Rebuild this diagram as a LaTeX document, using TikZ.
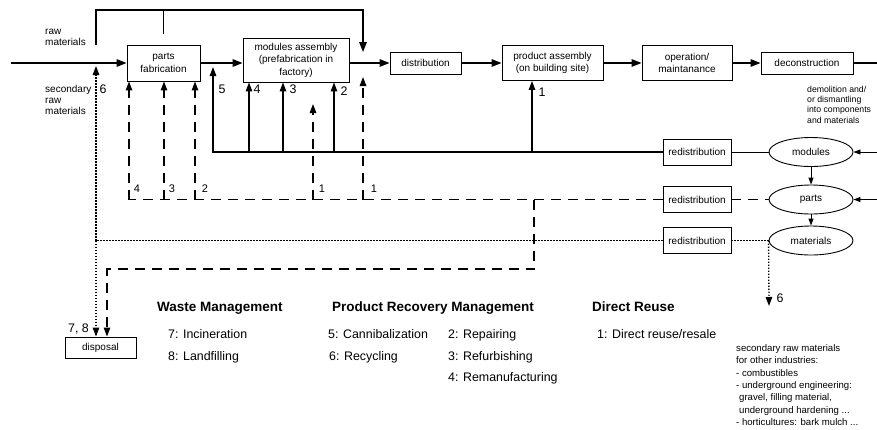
\documentclass[tikz,border=0pt]{standalone}
\usepackage{fontspec}
\setmainfont{Liberation Sans}
\usetikzlibrary{arrows.meta,positioning,calc,shapes.geometric}
\tikzset{
  stepbox/.style={draw, line width=0.9pt, fill=white, align=center, inner sep=0pt, font=\fontsize{10}{12.5}\selectfont},
  stock/.style={ellipse, draw, line width=0.9pt, inner sep=0pt, minimum width=84pt, minimum height=29pt, font=\fontsize{10}{12}\selectfont},
  flow/.style={-{Triangle[length=10pt,width=7.5pt]}, line width=1.5pt},
  feed/.style={line width=1.5pt},
  reuse/.style={-{Triangle[length=9pt,width=6.5pt]}, line width=1.3pt},
  recover/.style={-{Triangle[length=9pt,width=6.5pt]}, line width=1.3pt, dash pattern=on 10pt off 7pt},
  waste/.style={-{Triangle[length=9pt,width=6.5pt]}, line width=1.3pt, dash pattern=on 1.4pt off 1.6pt},
  feedin/.style={-{Triangle[length=7pt,width=5pt]}, line width=0.9pt},
  note/.style={font=\fontsize{10}{11}\selectfont, align=left, inner sep=0pt},
  num/.style={font=\fontsize{12.4}{14}\selectfont, inner sep=0pt},
  smallnum/.style={font=\fontsize{11}{13}\selectfont, inner sep=0pt},
  head/.style={font=\fontsize{13.5}{16}\selectfont\bfseries, inner sep=0pt, anchor=base west},
  item/.style={font=\fontsize{12.4}{14}\selectfont, inner sep=0pt, anchor=base west}
}
\begin{document}
\begin{tikzpicture}[x=1pt,y=-1pt]
\useasboundingbox (0,0) rectangle (877,429);
\clip (0,0) rectangle (877,429);

% Life cycle chain
\node[stepbox, minimum width=73pt, minimum height=36pt] (parts) at (163.5,63) {parts\\fabrication};
\node[stepbox, minimum width=106pt, minimum height=44pt] (modules) at (296,60) {modules assembly\\(prefabrication in\\factory)};
\node[stepbox, minimum width=71pt, minimum height=22pt] (distrib) at (425.5,63) {distribution};
\node[stepbox, minimum width=101pt, minimum height=35pt] (product) at (552.5,63) {product assembly\\(on building site)};
\node[stepbox, minimum width=90pt, minimum height=35pt] (operation) at (687,63) {operation/\\maintanance};
\node[stepbox, minimum width=92pt, minimum height=22pt] (decon) at (807,63) {deconstruction};

\coordinate (in) at (11,63);
\coordinate (out) at (877,63);
\draw[flow] (in) -- (parts.west);
\draw[flow] (parts.east) -- (parts.east -| modules.west);
\draw[flow] (modules.east |- distrib) -- (distrib.west);
\draw[flow] (distrib) -- (product);
\draw[flow] (product) -- (operation);
\draw[flow] (operation) -- (decon);
\draw[feed] (decon) -- (out);

% Raw materials feed
\coordinate (raw) at (96,45);
\coordinate (rawtop) at (96,10);
\coordinate (rawend) at (363,52);
\draw[flow] (raw) -- (rawtop) -| (rawend);
\draw[feed] (parts.north |- rawtop) -- ++(0,24);

\node[note, anchor=west] (rawtxt) at (45,37.5) {raw\\materials};
\node[note, anchor=west] (sectxt) at (45,100) {secondary\\raw\\materials};
\node[note, font=\fontsize{8.7}{10.3}\selectfont, anchor=west] (demtxt) at (807,104.5) {demolition and/\\or dismantling\\into components\\and materials};

% Redistribution and stocks
\node[stepbox, minimum width=68pt, minimum height=26pt] (redis1) at (697,152) {redistribution};
\node[stepbox, minimum width=68pt, minimum height=26pt] (redis2) at (697,199.5) {redistribution};
\node[stepbox, minimum width=68pt, minimum height=26pt] (redis3) at (697,240.5) {redistribution};
\node[stock] (smod) at (811,152) {modules};
\node[stock] (spart) at (811,199.5) {parts};
\node[stock] (smat) at (811,240.5) {materials};

\coordinate (in1) at (877,152);
\coordinate (in2) at (877,199.5);
\draw[feedin] (in1) -- (smod.east);
\draw[feedin] (in2) -- (spart.east);
\draw[feedin] (smod) -- (spart);
\draw[feedin] (spart) -- (smat);

% Direct reuse (solid)
\coordinate (r5) at (213,152);
\coordinate (r4) at (249,152);
\coordinate (r3) at (283,152);
\coordinate (r2) at (334,152);
\coordinate (r1) at (532,152);
\draw[line width=0.9pt] (redis1) -- (smod);
\draw[line width=1.9pt, line cap=rect] (redis1.west) -- (r5);
\draw[reuse] (r5) -- ($(r5 |- parts.east)+(0,4)$);
\draw[reuse] (r4) -- (r4 |- modules.south);
\draw[reuse] (r3) -- (r3 |- modules.south);
\draw[reuse] (r2) -- (r2 |- modules.south);
\draw[reuse] (r1) -- (r1 |- product.south);

\node[num] (n5) at (222,89) {5};
\node[num] (n4) at (257,89) {4};
\node[num] (n3) at (293,89) {3};
\node[num] (n2) at (344,91) {2};
\node[num] (n1) at (542,92) {1};

% Product recovery (dashed)
\coordinate (d4) at (129,199.5);
\coordinate (d3) at (164,199.5);
\coordinate (d2) at (195,199.5);
\coordinate (d1a) at (313,199.5);
\coordinate (d1b) at (363,199.5);
\coordinate (dw) at (534,199.5);
\coordinate (d1atop) at (313,104);
\coordinate (d1btop) at (363,77);
\draw[recover, -] (redis2.west) -- (d4);
\draw[recover, -] (redis2) -- (spart);
\draw[recover] (d4) -- (d4 |- parts.south);
\draw[recover] (d3) -- (d3 |- parts.south);
\draw[recover] (d2) -- (d2 |- parts.south);
\draw[recover] (d1a) -- (d1atop);
\draw[recover] (d1b) -- (d1btop);

\node[smallnum] (m4) at (137,189) {4};
\node[smallnum] (m3) at (172,189) {3};
\node[smallnum] (m2) at (205,189) {2};
\node[smallnum] (m1a) at (322,189) {1};
\node[smallnum] (m1b) at (374,189) {1};

% Waste and recycling (dotted)
\node[stepbox, minimum width=71pt, minimum height=21pt] (disposal) at (100.5,347.5) {disposal};
\coordinate (dj) at (96,240.5);
\coordinate (dtop) at (96,66);
\coordinate (wturn) at (534,269);
\coordinate (wleft) at (107,269);
\coordinate (sec) at (769,306);
\draw[waste, -] (redis3.west) -- (dj);
\draw[waste, -] (redis3) -- (smat);
\draw[waste] (dj) -- (dtop);
\draw[waste] (dj) -- (dj |- disposal.north);
\draw[recover] (dw) -- (wturn) -- (wleft) -- (wleft |- disposal.north);
\draw[waste] (smat.west) -- (sec);

\node[num] (n6a) at (103,89) {6};
\node[num] (n6b) at (780,298) {6};
\node[num] (n78) at (78.5,329) {7, 8};

\node[note, font=\fontsize{9.6}{12.3}\selectfont, anchor=west] (sectxt2) at (736,385) {secondary raw materials\\for other industries:\\- combustibles\\- underground engineering:\\\hspace{3pt}gravel, filling material,\\\hspace{3pt}underground hardening ...\\- horticultures: bark mulch ...};

% Legend
\node[head] (wm) at (157,311) {Waste Management};
\node[item] (w7) at (168,338.5) {7: Incineration};
\node[item] (w8) at (168,360.5) {8: Landfilling};
\node[head] (prm) at (332,311) {Product Recovery Management};
\node[item] (p5) at (328,338.5) {5: Cannibalization};
\node[item] (p6) at (329,360.5) {6: Recycling};
\node[item] (p2) at (448,338.5) {2: Repairing};
\node[item] (p3) at (448,360.5) {3: Refurbishing};
\node[item] (p4) at (448,381.5) {4: Remanufacturing};
\node[head] (dr) at (592,311) {Direct Reuse};
\node[item] (dd1) at (597,338.5) {1: Direct reuse/resale};

\end{tikzpicture}
\end{document}
